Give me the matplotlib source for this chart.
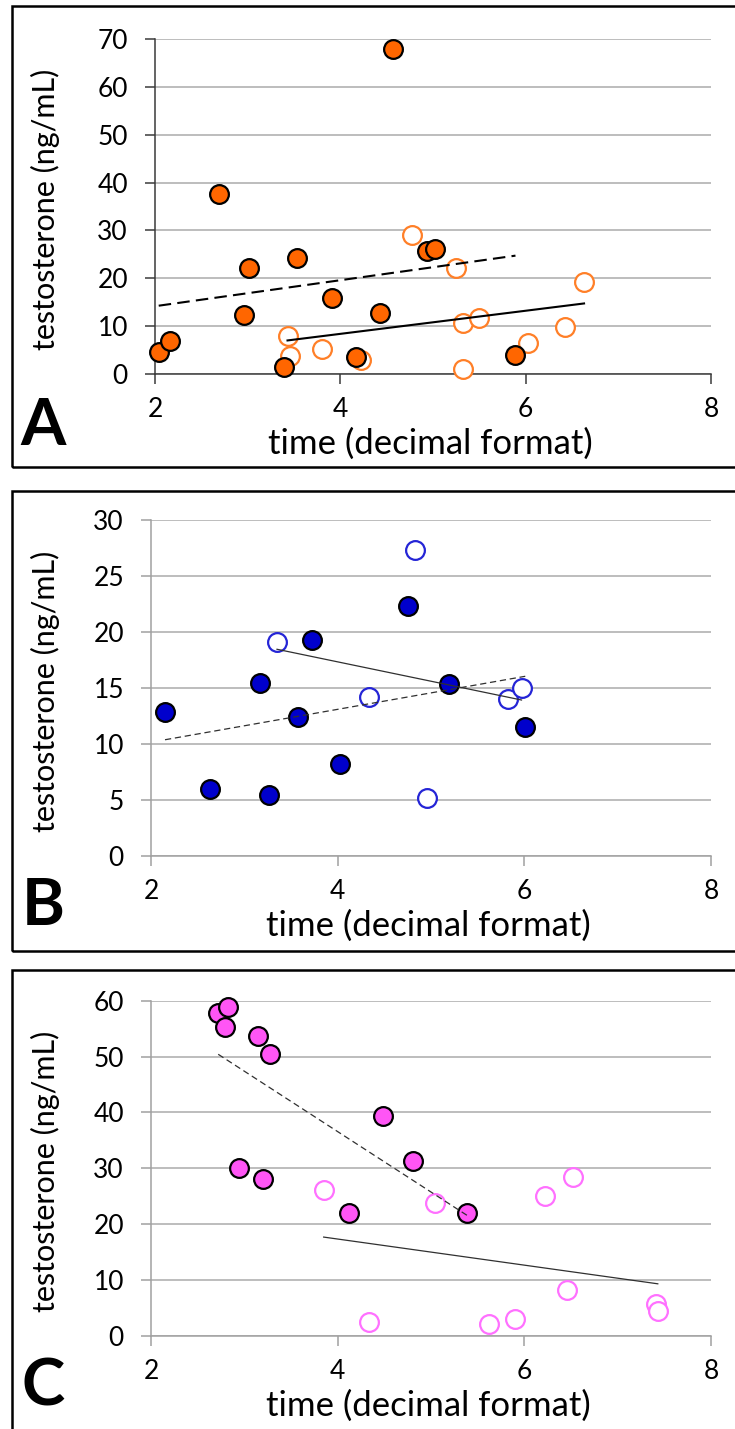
import numpy as np
import matplotlib
matplotlib.use('Agg')
import matplotlib.pyplot as plt
from matplotlib.patches import Rectangle

plt.rcParams['font.family'] = ['Lato', 'DejaVu Sans']

# panel A (orange)
a_filled_x = [2.04, 2.16, 2.69, 2.96, 3.01, 3.39, 3.53, 3.91, 4.17, 4.43, 4.57, 4.93, 5.02, 5.89]
a_filled_y = [4.7, 7.0, 37.6, 12.3, 22.1, 1.5, 24.3, 15.8, 3.5, 12.8, 67.9, 25.8, 26.1, 4.0]
a_open_x = [3.43, 3.46, 3.80, 4.22, 4.77, 5.25, 5.32, 5.32, 5.50, 6.03, 6.42, 6.63]
a_open_y = [8.0, 3.8, 5.2, 2.9, 29.1, 22.1, 10.6, 1.0, 11.8, 6.4, 9.9, 19.2]

# panel B (blue)
b_filled_x = [2.15, 2.63, 3.17, 3.26, 3.58, 3.73, 4.03, 4.75, 5.19, 6.01]
b_filled_y = [12.8, 6.0, 15.4, 5.4, 12.4, 19.3, 8.2, 22.3, 15.3, 11.5]
b_open_x = [3.35, 4.34, 4.83, 4.96, 5.83, 5.97]
b_open_y = [19.1, 14.2, 27.3, 5.2, 14.0, 15.0]

# panel C (pink)
c_filled_x = [2.72, 2.82, 2.79, 3.15, 3.28, 2.94, 3.20, 4.49, 4.81, 4.12, 5.39]
c_filled_y = [57.8, 58.9, 55.3, 53.6, 50.4, 30.0, 28.0, 39.4, 31.3, 21.9, 21.9]
c_open_x = [3.85, 4.34, 5.04, 5.62, 5.90, 6.22, 6.46, 6.52, 7.41, 7.43]
c_open_y = [26.1, 2.5, 23.7, 2.1, 3.0, 25.1, 8.2, 28.4, 5.7, 4.4]

x_ticks = [2, 4, 6, 8]
panel_letters = ['A', 'B', 'C']
y_labels = 'testosterone (ng/mL)'
x_label = 'time (decimal format)'

W, H = 735, 1429
fig = plt.figure(figsize=(W / 100, H / 100), dpi=100)


def fx(px):
    return px / W


def fy(py):
    return 1 - py / H


def trend(ax, xs, ys, **kw):
    xs = np.asarray(xs)
    k, b = np.polyfit(xs, ys, 1)
    xx = np.array([xs.min(), xs.max()])
    ax.plot(xx, k * xx + b, zorder=5, **kw)


panels = [
    dict(box=(6, 467), ax=(155, 39, 711, 374), ylim=70, ystep=10,
         filled=(a_filled_x, a_filled_y), opened=(a_open_x, a_open_y),
         fc='#FF6600', oc='#FF7F27', spine='#3A3A3A',
         line=dict(color='black', lw=1.5), dash=(0, (6, 3)), letter_base=445),
    dict(box=(491, 951), ax=(151, 520, 711, 855.7), ylim=30, ystep=5,
         filled=(b_filled_x, b_filled_y), opened=(b_open_x, b_open_y),
         fc='#0000CC', oc='#2424D6', spine='#A0A0A0',
         line=dict(color='#303030', lw=0.9), dash=(0, (5, 3)), letter_base=925),
    dict(box=(970, 1460), ax=(151, 1000.7, 711, 1335.7), ylim=60, ystep=10,
         filled=(c_filled_x, c_filled_y), opened=(c_open_x, c_open_y),
         fc='#FF55F5', oc='#FF70FF', spine='#A0A0A0',
         line=dict(color='#303030', lw=0.9), dash=(0, (5, 3)), letter_base=1405),
]

for p, letter in zip(panels, panel_letters):
    top, bot = p['box']
    fig.add_artist(Rectangle((fx(12), fy(bot)), fx(760) - fx(12), fy(top) - fy(bot),
                             transform=fig.transFigure, fill=False, ec='black', lw=1.8))
    l, t, r, b = p['ax']
    ax = fig.add_axes([fx(l), fy(b), fx(r) - fx(l), fy(t) - fy(b)])
    ax.set_xlim(2, 8)
    ax.set_ylim(0, p['ylim'])
    ax.set_xticks(x_ticks)
    ax.set_yticks(np.arange(0, p['ylim'] + 1, p['ystep']))
    ax.grid(axis='y', color='#ABABAB', lw=1.1)
    ax.set_axisbelow(True)
    for s in ['top', 'right']:
        ax.spines[s].set_visible(False)
    for s in ['left', 'bottom']:
        ax.spines[s].set_color(p['spine'])
        ax.spines[s].set_linewidth(1.1)
    ax.tick_params(colors=p['spine'], labelcolor='black', length=7.5, width=1.1,
                   labelsize=19)
    ax.tick_params(axis='y', pad=12)
    ax.tick_params(axis='x', pad=9)

    ox, oy = p['opened']
    ax.plot(ox, oy, 'o', ms=13.5, mfc='white', mec=p['oc'], mew=1.6,
            clip_on=False, zorder=3)
    fxs, fys = p['filled']
    ax.plot(fxs, fys, 'o', ms=13.5, mfc=p['fc'], mec='black', mew=1.6,
            clip_on=False, zorder=4)
    trend(ax, fxs, fys, ls=p['dash'], **p['line'])
    trend(ax, ox, oy, ls='-', **p['line'])

    ax.set_xlabel(x_label, fontsize=25, va='center')
    ax.xaxis.set_label_coords(0.496, -70 / (b - t))
    ax.set_ylabel(y_labels, fontsize=22, va='center')
    ax.yaxis.set_label_coords((45 - l) / (r - l), 0.49)

    fig.text(fx(43), fy(p['letter_base']), letter, fontsize=47, fontweight='bold',
             ha='center', va='baseline')

fig.savefig('out.png', dpi=100)
